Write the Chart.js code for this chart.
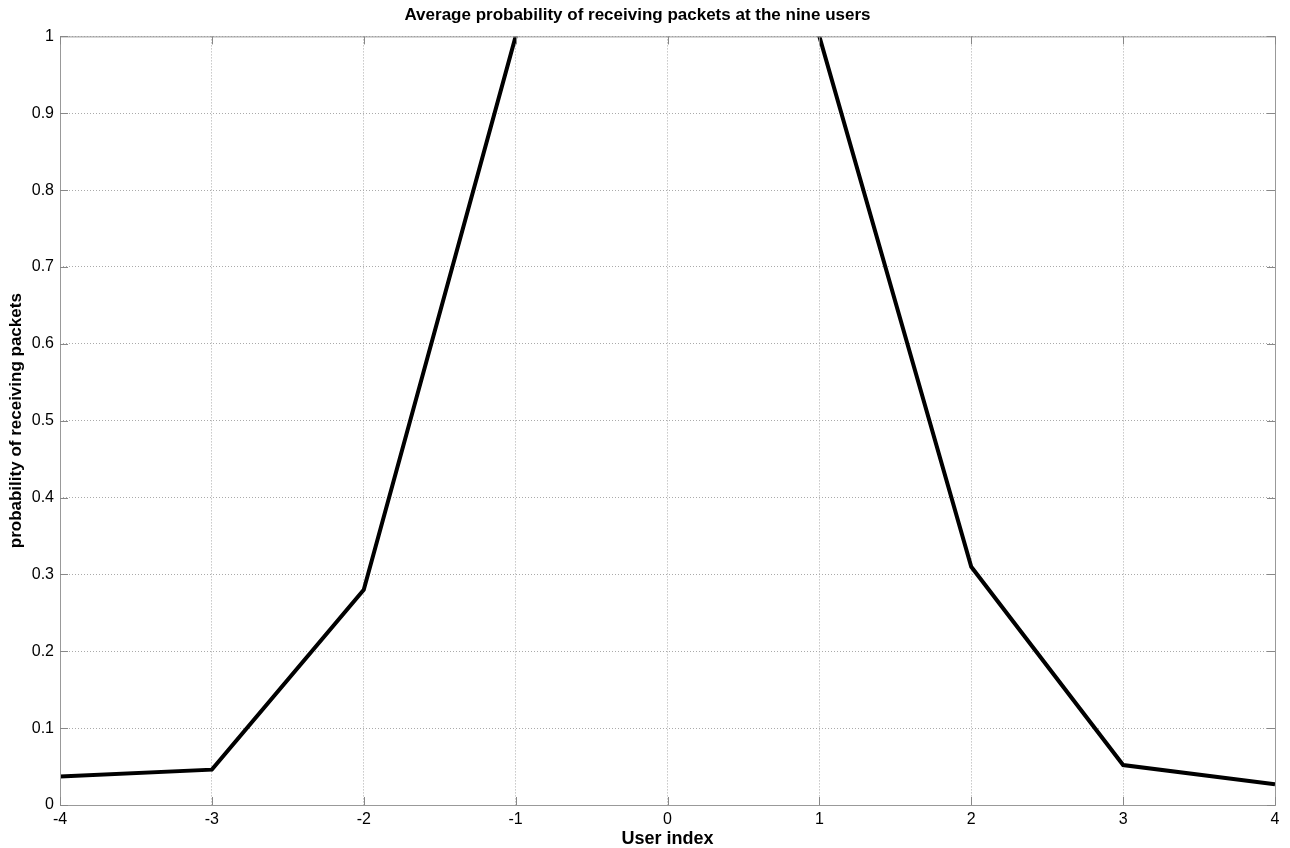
<!DOCTYPE html>
<html>
<head>
<meta charset="utf-8">
<script src="https://cdn.jsdelivr.net/npm/chart.js@4/dist/chart.umd.min.js"></script>
<style>
  html, body { margin: 0; padding: 0; background: #fff; }
  #chart { display: block; }
</style>
</head>
<body>
<canvas id="chart" width="1290" height="848"></canvas>
<script>
// user index and average probability
const userIndex = [-4, -3, -2, -1, 0, 1, 2, 3, 4];
const probability = [0.037, 0.046, 0.28, 1.0, 1.25, 1.0, 0.31, 0.052, 0.027];
const xTicks = [-4, -3, -2, -1, 0, 1, 2, 3, 4];
const yTicks = [0, 0.1, 0.2, 0.3, 0.4, 0.5, 0.6, 0.7, 0.8, 0.9, 1];

const points = userIndex.map(function (u, i) {
    return { x: u, y: probability[i] };
});

// box around the plot area plus small inward ticks, like matlab
const boxPlugin = {
    id: 'box',
    afterDraw(chart) {
        const { ctx, chartArea: a, scales } = chart;
        ctx.save();
        ctx.strokeStyle = '#999';
        ctx.lineWidth = 1;
        ctx.strokeRect(a.left + 0.5, a.top + 0.5, a.right - a.left, a.bottom - a.top);
        ctx.strokeStyle = '#888';
        ctx.beginPath();
        xTicks.forEach(function (t) {
            const px = Math.round(scales.x.getPixelForValue(t)) + 0.5;
            ctx.moveTo(px, a.bottom); ctx.lineTo(px, a.bottom - 8);
            ctx.moveTo(px, a.top); ctx.lineTo(px, a.top + 8);
        });
        yTicks.forEach(function (t) {
            const py = Math.round(scales.y.getPixelForValue(t)) + 0.5;
            ctx.moveTo(a.left, py); ctx.lineTo(a.left + 8, py);
            ctx.moveTo(a.right, py); ctx.lineTo(a.right - 8, py);
        });
        ctx.stroke();
        ctx.restore();
    }
};

const font = 'Liberation Sans, Arial, Helvetica, sans-serif';

new Chart(document.getElementById('chart'), {
    type: 'line',
    data: {
        datasets: [{
            data: points,
            borderColor: '#000',
            borderWidth: 4,
            pointRadius: 0,
            tension: 0,
            fill: false,
            clip: 0,
        }],
    },
    options: {
        responsive: false,
        animation: false,
        layout: { padding: { left: 0, right: 15, top: 0, bottom: 0 } },
        plugins: {
            legend: { display: false },
            tooltip: { enabled: false },
            title: {
                display: true,
                text: 'Average probability of receiving packets at the nine users',
                color: '#000',
                font: { family: font, size: 17, weight: 'bold' },
                padding: { top: 5, bottom: 11 },
            },
        },
        scales: {
            x: {
                type: 'linear',
                min: -4,
                max: 4,
                afterBuildTicks(scale) {
                    scale.ticks = xTicks.map(function (v) { return { value: v }; });
                },
                afterFit(scale) { scale.height = 43; },
                grid: { color: '#aaa', lineWidth: 1, drawTicks: false },
                border: { display: false, dash: [1, 2] },
                ticks: {
                    color: '#000',
                    padding: 5,
                    font: { family: font, size: 16 },
                },
                title: {
                    display: true,
                    text: 'User index',
                    color: '#000',
                    font: { family: font, size: 18, weight: 'bold', lineHeight: 1.0 },
                    padding: { top: 0, bottom: 0 },
                },
            },
            y: {
                min: 0,
                max: 1,
                afterBuildTicks(scale) {
                    scale.ticks = yTicks.map(function (v) { return { value: v }; });
                },
                afterFit(scale) { scale.width = 60; },
                grid: { color: '#aaa', lineWidth: 1, drawTicks: false },
                border: { display: false, dash: [1, 2] },
                ticks: {
                    color: '#000',
                    padding: 6,
                    font: { family: font, size: 16 },
                    callback: function (v) { return String(Math.round(v * 10) / 10); },
                },
                title: {
                    display: true,
                    text: 'probability of receiving packets',
                    color: '#000',
                    font: { family: font, size: 17, weight: 'bold' },
                    padding: { top: 6, bottom: 0 },
                },
            },
        },
    },
    plugins: [boxPlugin],
});
</script>
</body>
</html>
